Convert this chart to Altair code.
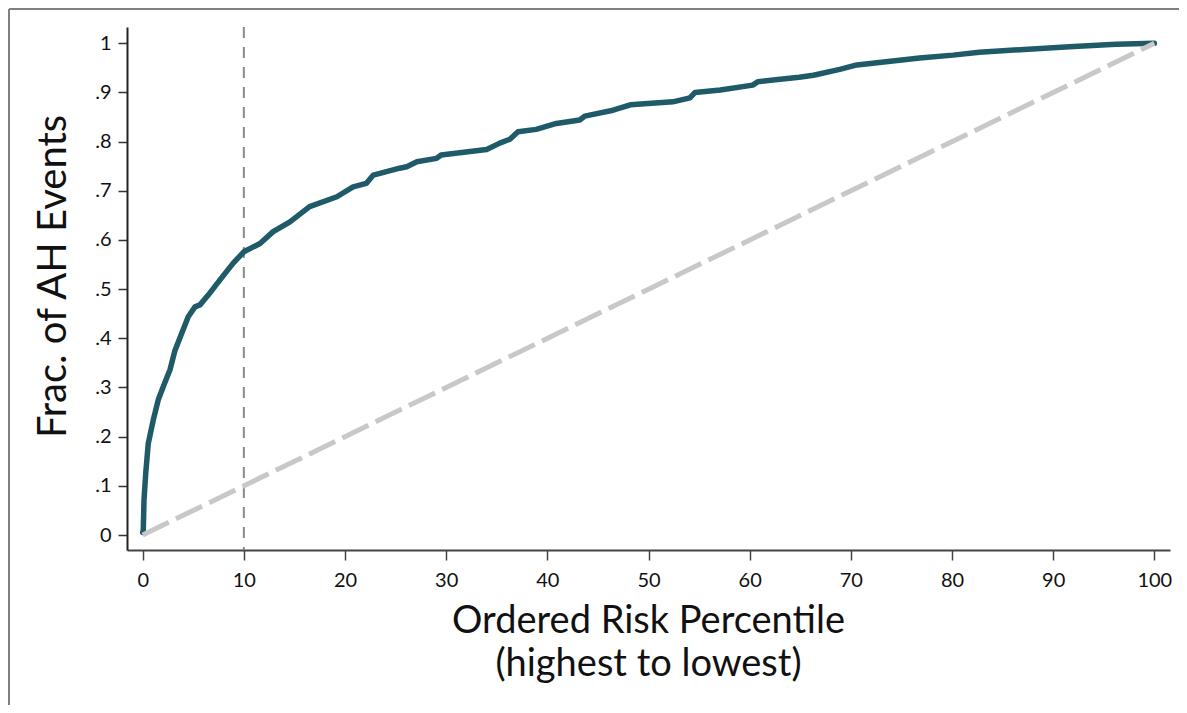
import altair as alt
import pandas as pd

# Cumulative fraction of AH events by ordered risk percentile
pct = [0, 0.06, 0.13, 0.3, 0.55, 1.05, 1.54, 2.04, 2.7, 3.2, 3.85, 4.5, 5.17, 5.66,
       6.48, 7.64, 8.95, 10.0, 11.6, 12.9, 14.56, 16.5, 19.2, 20.8, 22.1, 22.8,
       25.4, 26.1, 27.1, 29.05, 29.5, 34.0, 35.3, 36.3, 37.1, 38.9, 40.9, 43.2,
       43.7, 46.5, 48.2, 52.4, 54.1, 54.6, 57.1, 60.3, 60.8, 63.0, 64.9, 66.3,
       68.9, 70.6, 76.8, 80.1, 82.7, 91.6, 96.2, 100]
frac = [0.005, 0.01, 0.071, 0.125, 0.186, 0.234, 0.275, 0.302, 0.336, 0.376, 0.41,
        0.444, 0.464, 0.468, 0.488, 0.519, 0.553, 0.576, 0.593, 0.617, 0.637, 0.668,
        0.688, 0.708, 0.715, 0.732, 0.746, 0.749, 0.759, 0.766, 0.773, 0.784, 0.797,
        0.805, 0.820, 0.825, 0.837, 0.844, 0.852, 0.864, 0.875, 0.881, 0.889, 0.900,
        0.905, 0.915, 0.922, 0.927, 0.931, 0.935, 0.947, 0.956, 0.970, 0.976, 0.982,
        0.993, 0.998, 1.0]

diag_x = [0, 100]
diag_y = [0, 1]
cutoff = [10]

x_ticks = [0, 10, 20, 30, 40, 50, 60, 70, 80, 90, 100]
y_ticks = [0, 0.1, 0.2, 0.3, 0.4, 0.5, 0.6, 0.7, 0.8, 0.9, 1.0]

curve_df = pd.DataFrame({"x": pct, "y": frac})
diag_df = pd.DataFrame({"x": diag_x, "y": diag_y})
cut_df = pd.DataFrame({"x": cutoff})

FONT = "Lato"
TXT = "#111111"

xscale = alt.Scale(domain=[-1.55, 101.55], nice=False, zero=False)
yscale = alt.Scale(domain=[-0.0305, 1.0332], nice=False, zero=False)

xaxis = alt.Axis(
    values=x_ticks, title=["Ordered Risk Percentile", "(highest to lowest)"],
    titleFont=FONT, titleFontSize=38, titleFontWeight="normal", titleColor=TXT,
    titleLineHeight=43, titleX=521, titleY=52, titleBaseline="top", titleAlign="center",
    labelFont=FONT, labelFontSize=20, labelColor=TXT, labelPadding=10,
    tickSize=10, tickWidth=1.5, tickColor="#444444",
    domainColor="#444444", domainWidth=2, grid=False,
    labelFlush=False, labelOverlap=False,
)
yaxis = alt.Axis(
    values=y_ticks, title="Frac. of AH Events",
    labelExpr="datum.value == 0 ? '0' : datum.value == 1 ? '1' : replace(format(datum.value, '.1f'), '0.', '.')",
    titleFont=FONT, titleFontSize=40, titleFontWeight="normal", titleColor=TXT,
    titleAngle=270, titleX=-62, titleY=249, titleBaseline="alphabetic", titleAlign="center",
    labelFont=FONT, labelFontSize=20, labelColor=TXT, labelPadding=7,
    tickSize=9, tickWidth=1.5, tickColor="#333333",
    domainColor="#222222", domainWidth=2, grid=False,
    labelFlush=False, labelOverlap=False,
)

cut = alt.Chart(cut_df).mark_rule(
    color="#8a8a8a", strokeWidth=2, strokeDash=[11, 9]
).encode(x=alt.X("x:Q", scale=xscale, axis=xaxis))

curve = alt.Chart(curve_df).mark_line(
    color="#1f5a69", strokeWidth=5.5, strokeJoin="round", strokeCap="round"
).encode(
    x=alt.X("x:Q", scale=xscale, axis=xaxis),
    y=alt.Y("y:Q", scale=yscale, axis=yaxis),
    order="x:Q",
)

diag = alt.Chart(diag_df).mark_line(
    color="#c8c8c8", strokeWidth=5, strokeDash=[29, 8]
).encode(
    x=alt.X("x:Q", scale=xscale),
    y=alt.Y("y:Q", scale=yscale),
)

frame_src = alt.Data(values=[{"k": 1}])
frame_left = alt.Chart(frame_src).mark_rule(color="#7f7f7f", strokeWidth=2).encode(
    x=alt.value(-118), y=alt.value(-18), y2=alt.value(700)
)
frame_top = alt.Chart(frame_src).mark_rule(color="#7f7f7f", strokeWidth=2).encode(
    x=alt.value(-118), x2=alt.value(1080), y=alt.value(-18)
)

chart = alt.layer(cut, curve, diag, frame_left, frame_top).properties(
    width=1043, height=523,
    autosize=alt.AutoSizeParams(type="none"),
    padding={"left": 119, "top": 19, "right": 9, "bottom": 155},
    background="white",
).configure_view(stroke=None)

chart.save("out.html", embed_options={"renderer": "svg", "actions": False})
